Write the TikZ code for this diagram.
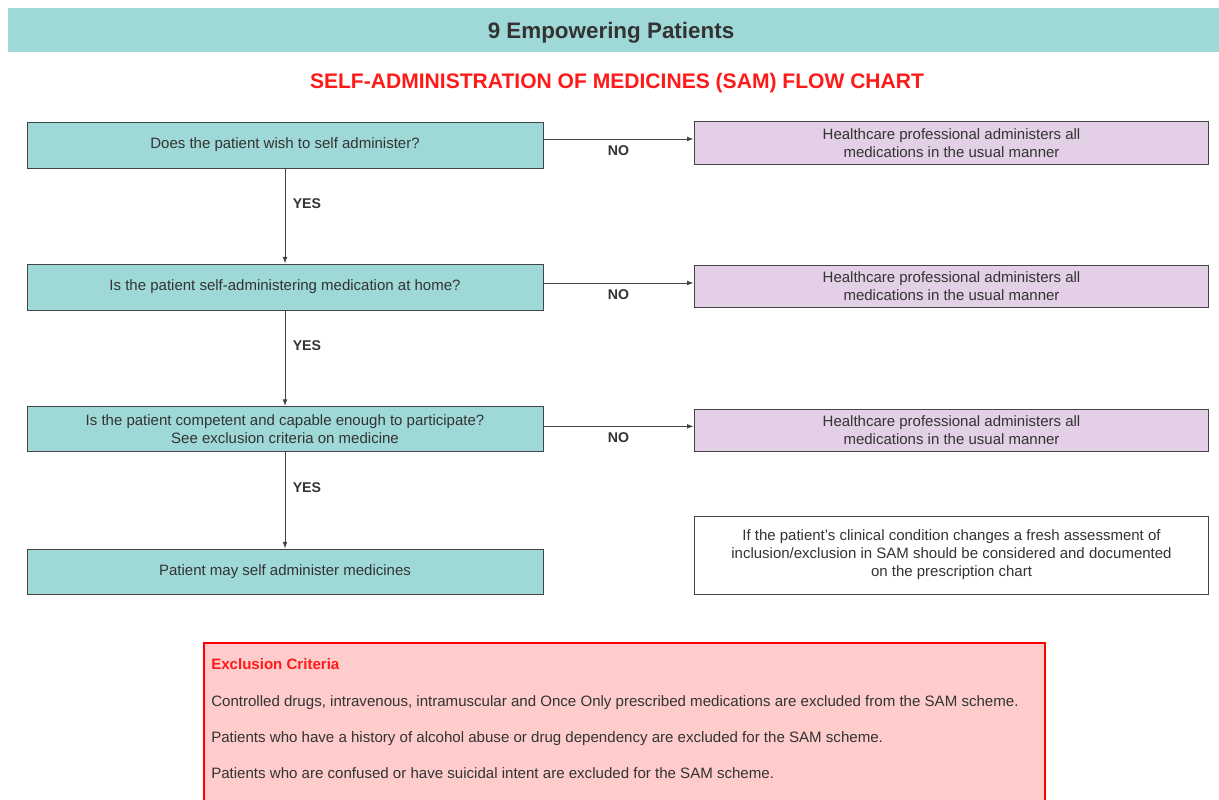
\documentclass[tikz,border=0pt]{standalone}
\usepackage{fontspec}
\setmainfont{Liberation Sans}
\usetikzlibrary{arrows.meta,calc}
\definecolor{teal1}{HTML}{9FD9D7}
\definecolor{lav}{HTML}{E4D0E6}
\definecolor{pink1}{HTML}{FFCCCC}
\definecolor{txt}{HTML}{333333}
\definecolor{brd}{HTML}{444444}
\definecolor{redt}{HTML}{FF1A1A}
\tikzset{
  body/.style={font=\fontsize{11.25}{13.5}\selectfont, text=txt},
  qbox/.style={draw=brd, line width=0.7pt, fill=teal1, minimum width=387pt, minimum height=34.5pt, align=center, inner sep=0pt, body},
  abox/.style={draw=brd, line width=0.7pt, fill=lav, minimum width=386pt, minimum height=32pt, align=center, inner sep=0pt, body},
  nbox/.style={draw=brd, line width=0.7pt, fill=white, minimum width=386pt, minimum height=58.5pt, align=center, inner sep=0pt, body},
  lab/.style={font=\fontsize{10.6}{12}\selectfont\bfseries, text=txt, inner sep=0pt},
  arr/.style={draw=brd, line width=0.7pt, -{Latex[length=5pt,width=3.6pt]}},
  crit/.style={font=\fontsize{11.3}{13}\selectfont, text=txt, anchor=base west, inner sep=0pt}
}
\begin{document}
\begin{tikzpicture}[x=0.75pt,y=-0.75pt]
\useasboundingbox (0,0) rectangle (1219,799);
\clip (0,0) rectangle (1219,799);
% header
\fill[teal1] (8,8) rectangle (1219,52);
\node[font=\fontsize{16.8}{19}\selectfont\bfseries, text=txt] (title) at (611,33) {9 Empowering Patients};
\node[font=\fontsize{15.8}{18}\selectfont\bfseries, text=redt] (sub) at (617,83) {SELF-ADMINISTRATION OF MEDICINES (SAM) FLOW CHART};
% left boxes
\node[qbox] (b1) at (285,145) {Does the patient wish to self administer?};
\node[qbox] (b2) at (285,287) {Is the patient self-administering medication at home?};
\node[qbox, minimum height=33.75pt] (b3) at (285,429) {Is the patient competent and capable enough to participate?\\See exclusion criteria on medicine};
\node[qbox, minimum height=33.75pt] (b4) at (285,571.5) {Patient may self administer medicines};
% right boxes
\node[abox] (r1) at (951.5,143) {Healthcare professional administers all\\medications in the usual manner};
\node[abox] (r2) at (951.5,286.5) {Healthcare professional administers all\\medications in the usual manner};
\node[abox] (r3) at (951.5,430.5) {Healthcare professional administers all\\medications in the usual manner};
\node[nbox] (note) at (951.5,555) {If the patient's clinical condition changes a fresh assessment of\\inclusion/exclusion in SAM should be considered and documented\\on the prescription chart};
% NO arrows
\coordinate (s1) at ([yshift=4.5pt]b1.east);
\coordinate (s2) at ([yshift=3pt]b2.east);
\coordinate (s3) at ([yshift=2pt]b3.east);
\draw[arr] (s1) -- (r1.west |- s1) node[lab, midway, below=4.5pt] {NO};
\draw[arr] (s2) -- (r2.west |- s2) node[lab, midway, below=4.5pt] {NO};
\draw[arr] (s3) -- (r3.west |- s3) node[lab, midway, below=4pt] {NO};
% YES arrows
\draw[arr] (b1.south) -- (b2.north) node[lab, pos=0.37, right=5.5pt] {YES};
\draw[arr] (b2.south) -- (b3.north) node[lab, pos=0.37, right=5.5pt] {YES};
\draw[arr] (b3.south) -- (b4.north) node[lab, pos=0.37, right=5.5pt] {YES};
% exclusion criteria
\draw[draw=red, fill=pink1, line width=0.8pt] (204,643) rectangle (1045,812);
\node[crit, font=\fontsize{11.3}{13}\selectfont\bfseries, text=redt] (ex) at (211,669.5) {Exclusion Criteria};
\node[crit] (c1) at (211,706) {Controlled drugs, intravenous, intramuscular and Once Only prescribed medications are excluded from the SAM scheme.};
\node[crit] (c2) at (211,742) {Patients who have a history of alcohol abuse or drug dependency are excluded for the SAM scheme.};
\node[crit] (c3) at (211,778) {Patients who are confused or have suicidal intent are excluded for the SAM scheme.};
\end{tikzpicture}
\end{document}
